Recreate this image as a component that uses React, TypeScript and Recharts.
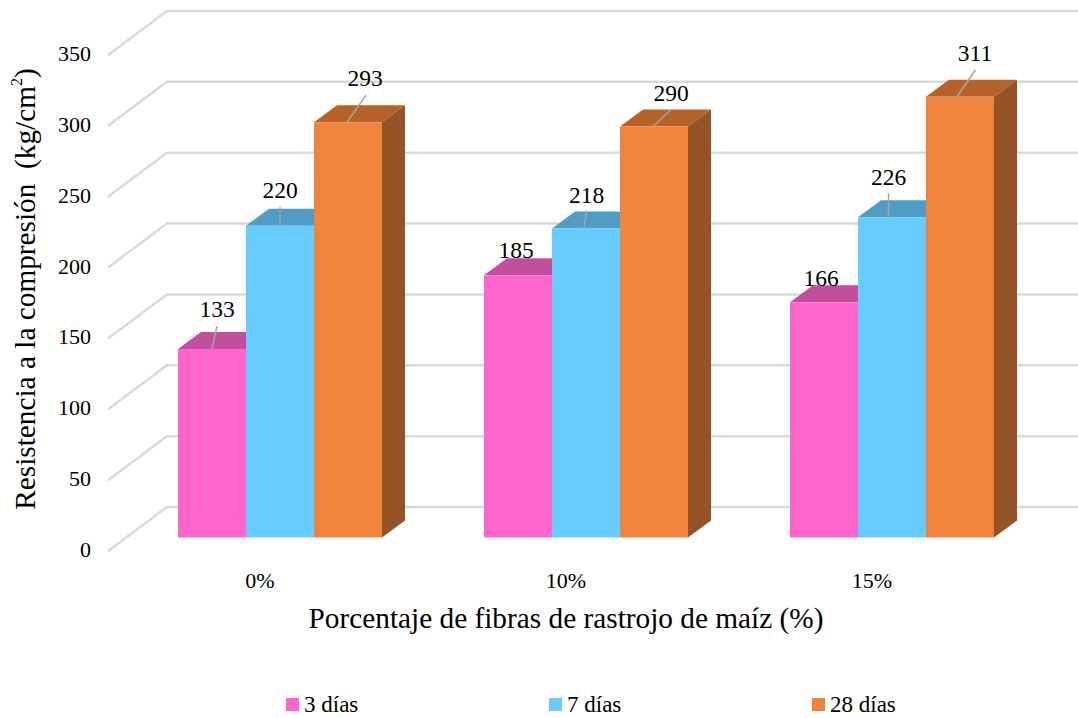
import { BarChart, Bar, XAxis, YAxis, Legend, LabelList, ReferenceLine } from 'recharts'

const categories = ['0%', '10%', '15%']
const dias3 = [133, 185, 166]
const dias7 = [220, 218, 226]
const dias28 = [293, 290, 311]
const yTicks = [0, 50, 100, 150, 200, 250, 300, 350]

const data = categories.map((name, i) => ({ name, d3: dias3[i], d7: dias7[i], d28: dias28[i] }))

const FONT = '"Liberation Serif", "Times New Roman", serif'
const GRID = '#D9D9D9'
const WIDTH = 1078
const HEIGHT = 718

// 3D look, pixels
const BAR_DX = 23
const BAR_DY = 17
const WALL_DX = 40
const WALL_DY = 30.5
const FLOOR_DX = 19
const FLOOR_DY = 13.5

// label placement relative to the top centre of its bar
const LABELS_3 = [
  { dx: 5, dy: -40, base: 0, tipX: 5, tipY: -23 },
  { dx: -2, dy: -25 },
  { dx: -3, dy: -24 },
]
const LABELS_7 = [
  { dx: 0, dy: -36, base: 0, tipX: 0, tipY: -19 },
  { dx: 0.5, dy: -34, base: -2, tipX: 0.5, tipY: -18 },
  { dx: -3.5, dy: -40, base: -3.5, tipX: -3.5, tipY: -24 },
]
const LABELS_28 = [
  { dx: 17, dy: -44, base: -1, tipX: 18, tipY: -27 },
  { dx: 17, dy: -34, base: -1, tipX: 17, tipY: -17 },
  { dx: 15, dy: -44, base: -3, tipX: 15.5, tipY: -27 },
]

function Box3D({ x, y, width, height, fill, top, side }: any) {
  return (
    <g>
      <polygon
        points={`${x + width},${y} ${x + width + BAR_DX},${y - BAR_DY} ${x + width + BAR_DX},${y + height - BAR_DY} ${x + width},${y + height}`}
        fill={side}
      />
      <polygon
        points={`${x},${y} ${x + BAR_DX},${y - BAR_DY} ${x + width + BAR_DX},${y - BAR_DY} ${x + width},${y}`}
        fill={top}
      />
      <rect x={x} y={y} width={width} height={height} fill={fill} />
    </g>
  )
}

function ValueLabel({ x, y, width, value, index, offsets }: any) {
  const o = offsets[index]
  const cx = x + width / 2
  return (
    <g>
      {o.tipY != null && (
        <line x1={cx + o.base} y1={y} x2={cx + o.tipX} y2={y + o.tipY} stroke="#A6A6A6" strokeWidth={1.5} />
      )}
      <text x={cx + o.dx} y={y + o.dy} textAnchor="middle" dominantBaseline="central" fontFamily={FONT} fontSize={23.5} fill="#000">
        {value}
      </text>
    </g>
  )
}

function WallLine({ x1, y1, x2 }: any) {
  return (
    <polyline
      points={`${x1 - FLOOR_DX},${y1 + FLOOR_DY} ${x1 + WALL_DX},${y1 - WALL_DY} ${x2 + WALL_DX},${y1 - WALL_DY}`}
      fill="none"
      stroke={GRID}
      strokeWidth={2.5}
    />
  )
}

function YTick({ y, payload }: any) {
  return (
    <text x={91} y={y + 12} textAnchor="end" dominantBaseline="central" fontFamily={FONT} fontSize={22} fill="#000">
      {payload.value}
    </text>
  )
}

function XTick({ x, payload }: any) {
  return (
    <text x={x - 20} y={580} textAnchor="middle" dominantBaseline="central" fontFamily={FONT} fontSize={22} fill="#000">
      {payload.value}
    </text>
  )
}

function XTitle() {
  return (
    <text x={566} y={618} textAnchor="middle" dominantBaseline="central" fontFamily={FONT} fontSize={29.3} fill="#000">
      Porcentaje de fibras de rastrojo de maíz (%)
    </text>
  )
}

function YTitle() {
  return (
    <text
      transform="translate(25,289) rotate(-90)"
      textAnchor="middle"
      dominantBaseline="central"
      fontFamily={FONT}
      fontSize={29.3}
      fill="#000"
    >
      Resistencia a la compresión{'\u00a0\u00a0'}(kg/cm
      <tspan fontSize={16} dy={-9}>2</tspan>
      <tspan dy={9}>)</tspan>
    </text>
  )
}

function LegendRow({ payload }: any) {
  return (
    <div style={{ display: 'flex', fontFamily: FONT, fontSize: 23, color: '#000', lineHeight: '24px' }}>
      {(payload || []).map((p: any) => (
        <div key={p.value} style={{ width: 263, display: 'flex', alignItems: 'center' }}>
          <span style={{ width: 13, height: 13, background: p.color, marginRight: 5 }} />
          {p.value}
        </div>
      ))}
    </div>
  )
}

export default function App() {
  return (
    <div style={{ position: 'absolute', left: 0, top: 0, width: WIDTH, height: HEIGHT, overflow: 'hidden' }}>
      <BarChart
        width={WIDTH}
        height={HEIGHT}
        data={data}
        margin={{ top: 41.5, right: 33, bottom: 130.5, left: 67 }}
        barCategoryGap={51}
        barGap={0}
      >
        <XAxis dataKey="name" axisLine={false} tickLine={false} height={50} tick={<XTick />} label={<XTitle />} />
        <YAxis
          domain={[0, 350]}
          ticks={yTicks}
          width={60}
          axisLine={false}
          tickLine={false}
          tick={<YTick />}
          label={<YTitle />}
        />
        {yTicks.map(t => (
          <ReferenceLine key={t} y={t} ifOverflow="visible" zIndex={-50} shape={<WallLine />} />
        ))}
        <Legend
          layout="horizontal"
          verticalAlign="middle"
          align="center"
          itemSorter={null}
          wrapperStyle={{ left: 286, top: 692.5, width: 792 }}
          content={<LegendRow />}
        />
        <Bar dataKey="d3" name="3 días" fill="#FF66CC" isAnimationActive={false}
          shape={<Box3D top="#C24F9C" side="#A8468A" />}>
          <LabelList dataKey="d3" content={<ValueLabel offsets={LABELS_3} />} />
        </Bar>
        <Bar dataKey="d7" name="7 días" fill="#66CCFF" isAnimationActive={false}
          shape={<Box3D top="#4F9DC2" side="#3F86A8" />}>
          <LabelList dataKey="d7" content={<ValueLabel offsets={LABELS_7} />} />
        </Bar>
        <Bar dataKey="d28" name="28 días" fill="#F0843C" isAnimationActive={false}
          shape={<Box3D top="#B5622B" side="#945427" />}>
          <LabelList dataKey="d28" content={<ValueLabel offsets={LABELS_28} />} />
        </Bar>
      </BarChart>
    </div>
  )
}
